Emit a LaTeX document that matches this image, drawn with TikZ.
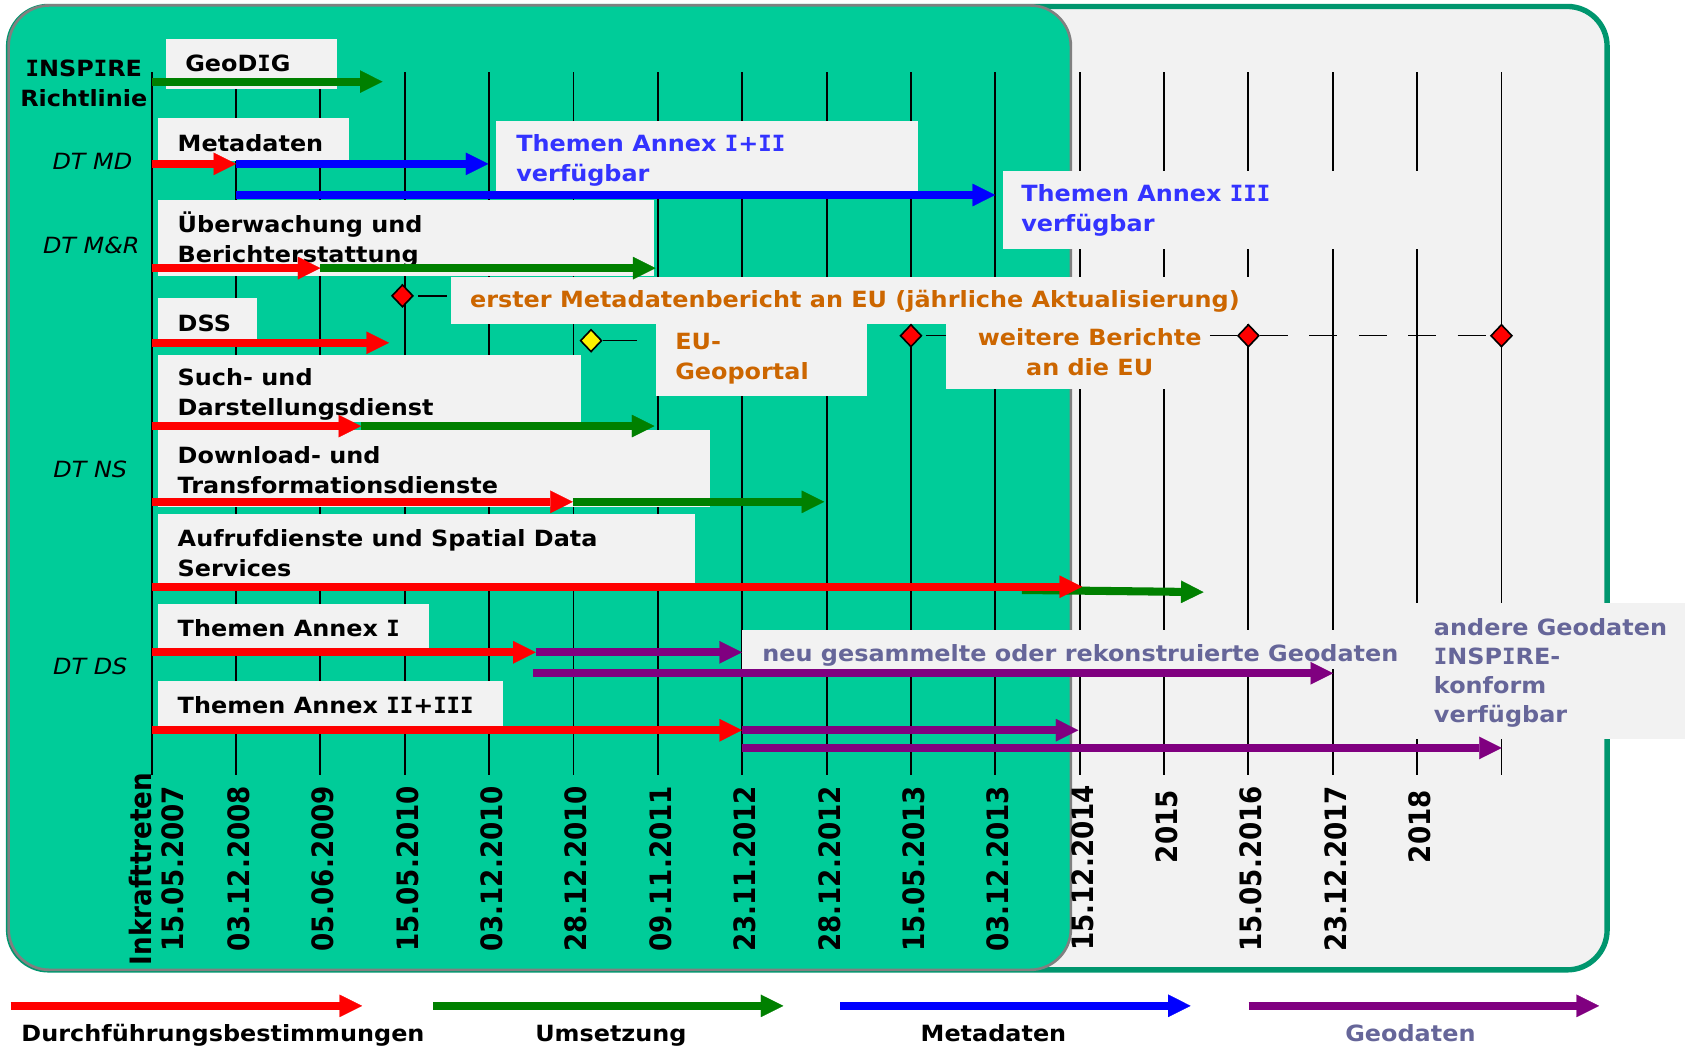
\documentclass[tikz,border=0pt]{standalone}
\usepackage{fontspec}
\setmainfont[BoldFont={DejaVu Sans Bold},ItalicFont={DejaVu Sans Oblique}]{DejaVu Sans}
\newfontfamily\mf[FakeStretch=1.07,BoldFont={DejaVu Sans Bold},ItalicFont={DejaVu Sans Oblique}]{DejaVu Sans}
\newfontfamily\monoI[FakeStretch=1.0,BoldFont={DejaVu Sans Mono Bold}]{DejaVu Sans Mono}
\newfontfamily\df[FakeStretch=0.89,BoldFont={DejaVu Sans Bold}]{DejaVu Sans}
\usetikzlibrary{arrows.meta,shapes.geometric}
\definecolor{frgreen}{RGB}{0,204,153}
\definecolor{frborder}{RGB}{0,150,110}
\definecolor{bgray}{RGB}{242,242,242}
\definecolor{gborder}{RGB}{128,128,128}
\definecolor{orng}{RGB}{204,102,0}
\definecolor{tblue}{RGB}{51,51,255}
\definecolor{tpurp}{RGB}{102,102,153}
\definecolor{agreen}{RGB}{0,128,0}
\definecolor{apurp}{RGB}{128,0,128}
\newcommand\wI{{\monoI I}}
\begin{document}
\begin{tikzpicture}[x=0.5pt,y=-0.5pt,
  box/.style={fill=bgray,draw=none,inner sep=0pt,anchor=north west},
  lbl/.style={font=\mf\bfseries\fontsize{10.4}{14}\selectfont,align=left,inner sep=0pt,anchor=west},
  dtlbl/.style={font=\mf\itshape\fontsize{10.4}{14}\selectfont,inner sep=0pt},
  datel/.style={font=\df\bfseries\fontsize{13.7}{14.75}\selectfont,rotate=90,inner sep=0pt,anchor=east},
  bar/.style={line width=3.75pt,-{Triangle[length=10.5pt,width=10.5pt,line width=0.1pt]}},
  vline/.style={line width=0.9pt,black},
  diam/.style={diamond,draw=black,line width=0.75pt,inner sep=0pt,minimum width=10pt,minimum height=10.5pt},
  conn/.style={line width=0.7pt,black}]
\useasboundingbox (0,0) rectangle (1568,975);
% frames
\draw[fill=bgray,draw=frborder,line width=2.5pt,rounded corners=18.5pt] (8,6) rectangle (1495.5,902.5);
\draw[fill=frgreen,draw=gborder,line width=1.25pt,rounded corners=19pt] (8,5) rectangle (996.5,902.5);
% time lines
\foreach \i in {0,...,16} \draw[vline] ({141.2+78.5*\i},67) -- ({141.2+78.5*\i},721);
% boxes
\node[box,minimum width=79.5pt,minimum height=23.25pt] (geodig) at (154,35.5) {};
\node[box,minimum width=88.5pt,minimum height=19.75pt] (meta) at (147,109.5) {};
\node[box,minimum width=196.25pt,minimum height=32.75pt] (annexA) at (461.5,112) {};
\node[box,minimum width=203.5pt,minimum height=36pt] (annexB) at (933,159) {};
\node[box,minimum width=230.5pt,minimum height=35pt] (ueb) at (147,186) {};
\node[box,minimum width=377.75pt,minimum height=21.75pt] (erster) at (419.5,257.5) {};
\node[box,minimum width=46pt,minimum height=19.3pt] (dss) at (147,277) {};
\node[box,minimum width=98pt,minimum height=33.5pt] (eugeo) at (610,301.5) {};
\node[box,minimum width=122.5pt,minimum height=30.5pt] (weitere) at (880,301) {};
\node[box,minimum width=196.5pt,minimum height=31pt] (such) at (147,330) {};
\node[box,minimum width=256.5pt,minimum height=35.75pt] (download) at (147,400) {};
\node[box,minimum width=249.5pt,minimum height=32.2pt] (aufruf) at (147,477.6) {};
\node[box,minimum width=126pt,minimum height=20.5pt] (annex1) at (147,562) {};
\node[box,minimum width=309.75pt,minimum height=18.25pt] (neu) at (690.5,586) {};
\node[box,minimum width=126pt,minimum height=63pt] (andere) at (1316,561) {};
\node[box,minimum width=160.5pt,minimum height=21.3pt] (annex23) at (147,633) {};
% box texts
\node[lbl] (t-geodig) at (172,58.5) {GeoD\wI G};
\node[lbl] (t-meta) at (165,133.5) {Metadaten};
\node[lbl,text=tblue] (t-annexA) at (480,149) {Themen Annex \wI+\wI\wI\\verfügbar};
\node[lbl,text=tblue] (t-annexB) at (950,196) {Themen Annex \wI\wI\wI\\verfügbar};
\node[lbl] (t-ueb) at (165,222.5) {Überwachung und\\Berichterstattung};
\node[lbl,text=orng] (t-erster) at (437,280.5) {erster Metadatenbericht an EU (jährliche Aktualisierung)};
\node[lbl] (t-dss) at (165,300.5) {DSS};
\node[lbl,text=orng] (t-eugeo) at (628,334) {EU-\\Geoportal};
\node[lbl,text=orng,align=center,anchor=center] (t-weitere) at (1014,328) {weitere Berichte\\an die EU};
\node[lbl] (t-such) at (165,367) {Such- und\\Darstellungsdienst};
\node[lbl] (t-download) at (165,437.5) {Download- und\\Transformationsdienste};
\node[lbl] (t-aufruf) at (165,515) {Aufrufdienste und Spatial Data\\Services};
\node[lbl] (t-annex1) at (165,584.5) {Themen Annex \wI};
\node[lbl,text=tpurp] (t-neu) at (709,609.5) {neu gesammelte oder rekonstruierte Geodaten};
\node[lbl,text=tpurp,font=\mf\bfseries\fontsize{10.4}{13.5}\selectfont] (t-andere) at (1334,626) {andere Geodaten\\\wI NSP\wI RE-\\konform\\verfügbar};
\node[lbl] (t-annex23) at (165,656.5) {Themen Annex \wI\wI+\wI\wI\wI};
% left labels
\node[lbl,align=center,anchor=center] (inspire) at (78,77.5) {\wI NSP\wI RE\\Richtlinie};
\node[dtlbl] (dtmd) at (86,150) {DT MD};
\node[dtlbl] (dtmr) at (85,228) {DT M\&R};
\node[dtlbl] (dtns) at (84,437) {DT NS};
\node[dtlbl] (dtds) at (84,620) {DT DS};
% dates
\node[datel,align=center,anchor=center] (date0) at (145.5,808.5) {Inkrafttreten\\15.05.2007};
\foreach \i/\d/\yy in {1/03.12.2008/731,2/05.06.2009/731,3/15.05.2010/731,4/03.12.2010/731,5/28.12.2010/731,6/09.11.2011/731,7/23.11.2012/731,8/28.12.2012/731,9/15.05.2013/731,10/03.12.2013/731,11/15.12.2014/730,12/2015/735,13/15.05.2016/731,14/23.12.2017/731,15/2018/735}
  \node[datel] (date\i) at ({143.7+78.5*\i},\yy) {\d};
% diamonds and report lines
\node[diam,fill=red] (dia1) at (374.5,275.3) {};
\node[diam,fill=yellow] (dia2) at (550,317) {};
\node[diam,fill=red] (dia3) at (847.7,312.4) {};
\node[diam,fill=red] (dia4) at (1161.7,312.4) {};
\node[diam,fill=red] (dia5) at (1397.2,312.4) {};
\coordinate (ygend) at (592.5,317);
\draw[conn,shorten <=2pt,shorten >=2pt] (dia1.east) -- (dia1.east -| erster.west);
\draw[conn] (dia2.east) -- (ygend);
\draw[conn,shorten <=1.5pt] (dia3.east) -- (dia3.east -| weitere.west);
\draw[conn,dash pattern=on 13pt off 10pt] (dia4.west -| weitere.east) -- (dia4.west);
\draw[conn,dash pattern=on 13pt off 10pt] (dia4.east) -- (dia5.west);
% bars: non-red
\draw[bar,agreen] (141.2,76) -- (356,76);
\draw[bar,blue] (219.7,152.5) -- (454.5,152.5);
\draw[bar,blue] (219.7,181.5) -- (926,181.5);
\draw[bar,agreen] (298.2,249.5) -- (610,249.5);
\draw[bar,agreen] (336,396.5) -- (609,396.5);
\draw[bar,agreen] (533,467) -- (767,467);
\draw[bar,agreen] (951,549) -- (1120,551);
\draw[bar,apurp] (498.5,607) -- (690.5,607);
\draw[bar,apurp] (496,626.5) -- (1240.5,626.5);
\draw[bar,apurp] (690.5,679.5) -- (1003.5,679.5);
\draw[bar,apurp] (690.5,696) -- (1397.5,696);
% bars: red
\draw[bar,red] (141.2,152.5) -- (219.7,152.5);
\draw[bar,red] (141.2,249.5) -- (298.2,249.5);
\draw[bar,red] (141.2,319) -- (362,319);
\draw[bar,red] (141.2,396.5) -- (336,396.5);
\draw[bar,red] (141.2,467) -- (533,467);
\draw[bar,red] (141.2,546) -- (1007,546);
\draw[bar,red] (141.2,607) -- (498.5,607);
\draw[bar,red] (141.2,679.5) -- (690.5,679.5);
% legend
\draw[bar,red] (10,936) -- (337,936);
\draw[bar,agreen] (403,936) -- (729,936);
\draw[bar,blue] (782,936) -- (1108,936);
\draw[bar,apurp] (1162,936) -- (1488,936);
\node[lbl,anchor=base] (leg1) at (207.5,969) {Durchführungsbestimmungen};
\node[lbl,anchor=base] (leg2) at (568.5,969) {Umsetzung};
\node[lbl,anchor=base] (leg3) at (924.5,969) {Metadaten};
\node[lbl,anchor=base,text=tpurp] (leg4) at (1312.5,969) {Geodaten};
\end{tikzpicture}
\end{document}
